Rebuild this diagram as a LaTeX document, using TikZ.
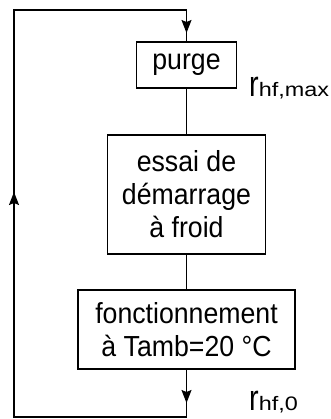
\documentclass[tikz,border=0pt]{standalone}
\usepackage{fontspec}
\setmainfont[FakeStretch=0.92]{Liberation Sans}
\newfontfamily\labfont{Liberation Sans}
\usetikzlibrary{arrows.meta}
\begin{document}
\begin{tikzpicture}[x=1pt,y=-1pt,
  box/.style={draw,line width=1.2pt,inner sep=0pt,align=center,
    font=\fontsize{29}{33}\selectfont},
  line/.style={line width=1.2pt},
  tip/.style={line width=1.2pt,-{Stealth[length=13pt,width=10pt,inset=2pt]}},
  lab/.style={anchor=base west,inner sep=0pt}]
\useasboundingbox (0,0) rectangle (330,419);
\node[box,minimum width=100pt,minimum height=46pt] (purge) at (186.5,65) {purge};
\node[box,minimum width=158pt,minimum height=119pt] (essai) at (186.5,194.5) {essai de\\d\'emarrage\\\`a froid};
\node[box,minimum width=217pt,minimum height=79pt] (fonct) at (186.5,329.5) {fonctionnement\\\`a Tamb=20 °C};
\coordinate (br) at (186.5,417);
\coordinate (bl) at (14,417);
\coordinate (tl) at (14,10);
\coordinate (tr) at (186.5,10);
\coordinate (a1) at (186.5,403);
\coordinate (a2) at (14,192);
\coordinate (a3) at (186.5,33);
\draw[line] (purge) -- (essai);
\draw[line] (essai) -- (fonct);
\draw[line] (fonct) -- (br) -- (bl) -- (tl) -- (tr) -- (purge);
\draw[tip] (fonct.south) -- (a1);
\draw[tip] (bl) -- (a2);
\draw[tip] (tr) -- (a3);
\node[lab] (rmax) at (249,97) {\labfont\scalebox{0.8}[1]{\fontsize{36}{36}\selectfont r}\scalebox{1.2}[1]{\fontsize{19.5}{19.5}\selectfont hf,max}};
\node[lab] (rzero) at (249,410) {\labfont\scalebox{0.8}[1]{\fontsize{36}{36}\selectfont r}\scalebox{1.2}[1]{\fontsize{19.5}{19.5}\selectfont hf,0}};
\end{tikzpicture}
\end{document}
